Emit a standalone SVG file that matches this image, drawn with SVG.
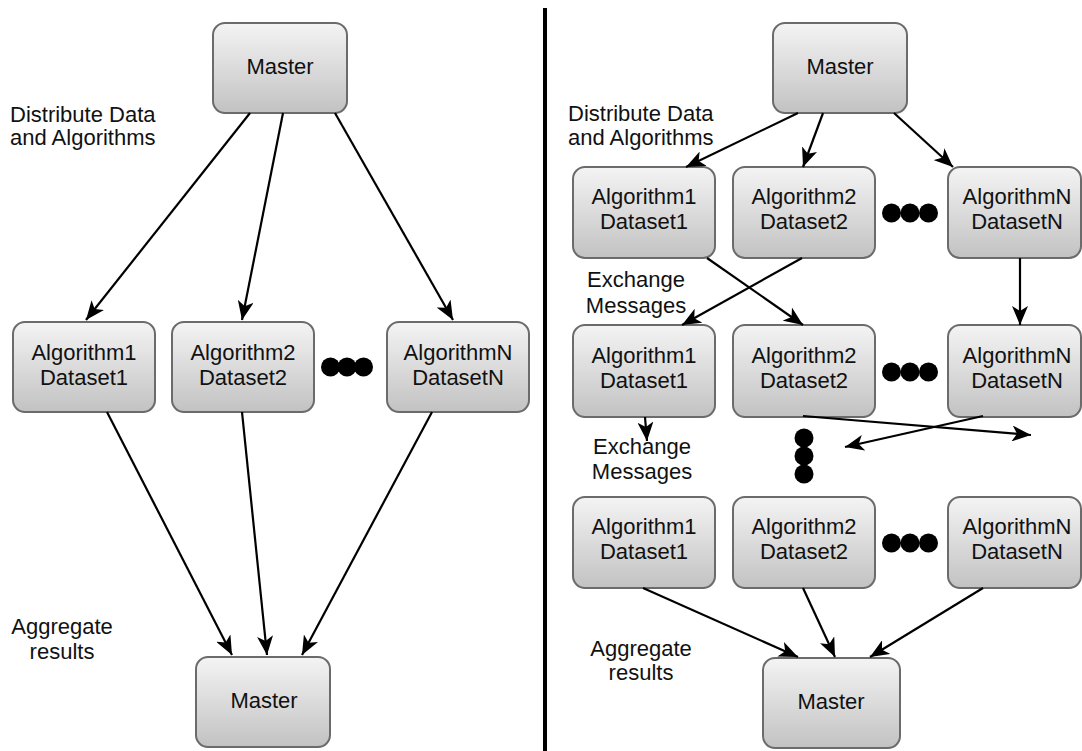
<svg xmlns="http://www.w3.org/2000/svg" width="1082" height="751" viewBox="0 0 1082 751">
  <defs>
    <linearGradient id="boxFill" x1="0" y1="0" x2="0" y2="1">
      <stop offset="0" stop-color="#f4f4f4"/>
      <stop offset="1" stop-color="#c2c2c2"/>
    </linearGradient>
    <marker id="arrow" markerUnits="userSpaceOnUse" viewBox="0 0 19 16" refX="19" refY="8" markerWidth="19" markerHeight="16" orient="auto">
      <path d="M0,0 L19,8 L0,16 L5,8 z" fill="#000"/>
    </marker>
  </defs>
  <style>
    .box { fill: url(#boxFill); stroke: #6b6b6b; stroke-width: 2; }
    .t { font-family: "Liberation Sans", Arial, Helvetica, sans-serif; font-size: 22px; fill: #111; text-anchor: middle; }
    .lbl { font-family: "Liberation Sans", Arial, Helvetica, sans-serif; font-size: 22px; fill: #111; }
    .edge { stroke: #000; stroke-width: 2.2; fill: none; marker-end: url(#arrow); }
    .dot { fill: #000; }
  </style>

  <rect width="1082" height="751" fill="#fff"/>

  <!-- divider between the two schemes -->
  <line x1="545" y1="8" x2="545" y2="751" stroke="#000" stroke-width="4"/>

  <!-- ===== Left scheme ===== -->
  <g id="L-master-top">
    <rect class="box" x="213" y="23" width="134" height="90" rx="12"/>
    <text class="t" x="280" y="74">Master</text>
  </g>
  <g id="L-alg1">
    <rect class="box" x="13" y="322" width="142" height="90" rx="12"/>
    <text class="t" x="84" y="360">Algorithm1</text>
    <text class="t" x="84" y="385">Dataset1</text>
  </g>
  <g id="L-alg2">
    <rect class="box" x="172" y="322" width="142" height="90" rx="12"/>
    <text class="t" x="243" y="360">Algorithm2</text>
    <text class="t" x="243" y="385">Dataset2</text>
  </g>
  <g id="L-dots">
    <circle class="dot" cx="330.5" cy="367" r="9.5"/>
    <circle class="dot" cx="347" cy="367" r="9.5"/>
    <circle class="dot" cx="363.5" cy="367" r="9.5"/>
  </g>
  <g id="L-algN">
    <rect class="box" x="387" y="322" width="142" height="90" rx="12"/>
    <text class="t" x="458" y="360">AlgorithmN</text>
    <text class="t" x="458" y="385">DatasetN</text>
  </g>
  <g id="L-master-bottom">
    <rect class="box" x="196" y="657" width="134" height="90" rx="12"/>
    <text class="t" x="264" y="708">Master</text>
  </g>
  <g id="L-labels">
    <text class="lbl" x="10" y="122">Distribute Data</text>
    <text class="lbl" x="10" y="145">and Algorithms</text>
    <text class="t" x="62" y="634">Aggregate</text>
    <text class="t" x="62" y="659">results</text>
  </g>
  <g id="L-connectors">
    <line class="edge" x1="250" y1="113" x2="86" y2="320"/>
    <line class="edge" x1="283" y1="113" x2="242" y2="320"/>
    <line class="edge" x1="335" y1="113" x2="453" y2="320"/>
    <line class="edge" x1="107" y1="412" x2="232" y2="655"/>
    <line class="edge" x1="242" y1="412" x2="267" y2="655"/>
    <line class="edge" x1="432" y1="412" x2="302" y2="655"/>
  </g>

  <!-- ===== Right scheme ===== -->
  <g id="R-master-top">
    <rect class="box" x="773" y="23" width="134" height="90" rx="12"/>
    <text class="t" x="840" y="74">Master</text>
  </g>

  <g id="R-r1-alg1">
    <rect class="box" x="573" y="167" width="142" height="91" rx="12"/>
    <text class="t" x="644" y="204">Algorithm1</text>
    <text class="t" x="644" y="229">Dataset1</text>
  </g>
  <g id="R-r1-alg2">
    <rect class="box" x="733" y="167" width="142" height="91" rx="12"/>
    <text class="t" x="804" y="204">Algorithm2</text>
    <text class="t" x="804" y="229">Dataset2</text>
  </g>
  <g id="R-r1-dots">
    <circle class="dot" cx="891.5" cy="213" r="9.5"/>
    <circle class="dot" cx="910" cy="213" r="9.5"/>
    <circle class="dot" cx="928.5" cy="213" r="9.5"/>
  </g>
  <g id="R-r1-algN">
    <rect class="box" x="948" y="167" width="133" height="91" rx="12"/>
    <text class="t" x="1017" y="204">AlgorithmN</text>
    <text class="t" x="1017" y="229">DatasetN</text>
  </g>

  <g id="R-r2-alg1">
    <rect class="box" x="573" y="325" width="142" height="92" rx="12"/>
    <text class="t" x="644" y="363">Algorithm1</text>
    <text class="t" x="644" y="388">Dataset1</text>
  </g>
  <g id="R-r2-alg2">
    <rect class="box" x="733" y="325" width="142" height="92" rx="12"/>
    <text class="t" x="804" y="363">Algorithm2</text>
    <text class="t" x="804" y="388">Dataset2</text>
  </g>
  <g id="R-r2-dots">
    <circle class="dot" cx="891.5" cy="372" r="9.5"/>
    <circle class="dot" cx="910" cy="372" r="9.5"/>
    <circle class="dot" cx="928.5" cy="372" r="9.5"/>
  </g>
  <g id="R-r2-algN">
    <rect class="box" x="948" y="325" width="133" height="92" rx="12"/>
    <text class="t" x="1017" y="363">AlgorithmN</text>
    <text class="t" x="1017" y="388">DatasetN</text>
  </g>

  <g id="R-vdots">
    <circle class="dot" cx="804" cy="438" r="9.5"/>
    <circle class="dot" cx="804" cy="456" r="9.5"/>
    <circle class="dot" cx="804" cy="474" r="9.5"/>
  </g>

  <g id="R-r3-alg1">
    <rect class="box" x="573" y="497" width="142" height="91" rx="12"/>
    <text class="t" x="644" y="534">Algorithm1</text>
    <text class="t" x="644" y="559">Dataset1</text>
  </g>
  <g id="R-r3-alg2">
    <rect class="box" x="733" y="497" width="142" height="91" rx="12"/>
    <text class="t" x="804" y="534">Algorithm2</text>
    <text class="t" x="804" y="559">Dataset2</text>
  </g>
  <g id="R-r3-dots">
    <circle class="dot" cx="891.5" cy="543" r="9.5"/>
    <circle class="dot" cx="910" cy="543" r="9.5"/>
    <circle class="dot" cx="928.5" cy="543" r="9.5"/>
  </g>
  <g id="R-r3-algN">
    <rect class="box" x="948" y="497" width="133" height="91" rx="12"/>
    <text class="t" x="1017" y="534">AlgorithmN</text>
    <text class="t" x="1017" y="559">DatasetN</text>
  </g>

  <g id="R-master-bottom">
    <rect class="box" x="763" y="658" width="137" height="90" rx="12"/>
    <text class="t" x="831" y="709">Master</text>
  </g>

  <g id="R-labels">
    <text class="lbl" x="568" y="121">Distribute Data</text>
    <text class="lbl" x="568" y="145">and Algorithms</text>
    <text class="t" x="636" y="287">Exchange</text>
    <text class="t" x="636" y="313">Messages</text>
    <text class="t" x="642" y="454">Exchange</text>
    <text class="t" x="642" y="479">Messages</text>
    <text class="t" x="641" y="656">Aggregate</text>
    <text class="t" x="641" y="680">results</text>
  </g>

  <g id="R-connectors">
    <line class="edge" x1="798" y1="113" x2="686" y2="167"/>
    <line class="edge" x1="823" y1="113" x2="803" y2="167"/>
    <line class="edge" x1="894" y1="113" x2="953" y2="167"/>
    <line class="edge" x1="707" y1="258" x2="803" y2="325"/>
    <line class="edge" x1="802" y1="258" x2="682" y2="325"/>
    <line class="edge" x1="1020" y1="258" x2="1020" y2="325"/>
    <line class="edge" x1="645" y1="417" x2="647" y2="441"/>
    <line class="edge" x1="803" y1="416" x2="1031" y2="435"/>
    <line class="edge" x1="983" y1="416" x2="845" y2="447"/>
    <line class="edge" x1="643" y1="588" x2="798" y2="657"/>
    <line class="edge" x1="803" y1="588" x2="835" y2="657"/>
    <line class="edge" x1="983" y1="588" x2="870" y2="657"/>
  </g>
</svg>
